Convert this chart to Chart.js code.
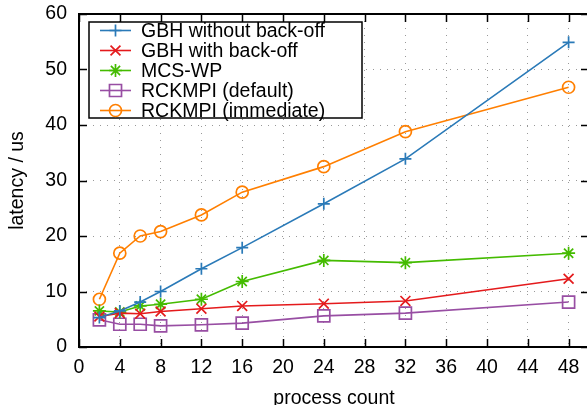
<!DOCTYPE html>
<html>
<head>
<meta charset="utf-8">
<script src="https://cdn.jsdelivr.net/npm/chart.js@4/dist/chart.umd.min.js"></script>
<style>
  html, body { margin: 0; padding: 0; background: #fff; overflow: hidden; }
  #wrap { width: 600px; height: 412px; }
</style>
</head>
<body>
<div id="wrap"><canvas id="chart" width="600" height="412"></canvas></div>
<script>
// process counts on the x axis
const processCounts = [2, 4, 6, 8, 12, 16, 24, 32, 48];
const xTicks = [0, 4, 8, 12, 16, 20, 24, 28, 32, 36, 40, 44, 48];
const yTicks = [0, 10, 20, 30, 40, 50, 60];

// latency in us
const gbhNoBackoff = [5.3, 6.5, 8.1, 10.0, 14.1, 17.9, 25.8, 33.9, 54.9];
const gbhBackoff = [5.5, 6.1, 6.0, 6.4, 6.9, 7.4, 7.8, 8.3, 12.3];
const mcsWp = [6.5, 6.3, 7.4, 7.7, 8.6, 11.8, 15.6, 15.2, 16.9];
const rckDefault = [4.9, 4.1, 4.1, 3.8, 4.0, 4.3, 5.6, 6.1, 8.1];
const rckImmediate = [8.6, 16.9, 20.0, 20.8, 23.8, 27.9, 32.5, 38.8, 46.8];

const FONT = "'Liberation Sans', Arial, sans-serif";
const FSIZE = 19.5;

function series(label, values, color, style, radius) {
    return {
        label: label,
        data: processCounts.map((x, i) => ({ x: x, y: values[i] })),
        borderColor: color,
        backgroundColor: 'transparent',
        pointBorderColor: color,
        pointBackgroundColor: 'transparent',
        pointStyle: style,
        pointRadius: radius,
        pointBorderWidth: 1.7,
        borderWidth: 1.6,
        tension: 0
    };
}

const datasets = [
    series('GBH without back-off', gbhNoBackoff, '#2a7ab8', 'cross', 6),
    series('GBH with back-off', gbhBackoff, '#e41a1c', 'crossRot', 7),
    series('MCS-WP', mcsWp, '#44bb00', 'star', 6.5),
    series('RCKMPI (default)', rckDefault, '#984ea3', 'rect', 8.5),
    series('RCKMPI (immediate)', rckImmediate, '#ff7f00', 'circle', 6)
];

// frame with inward ticks on all four sides, like gnuplot
const framePlugin = {
    id: 'frame',
    beforeDatasetsDraw(chart) {
        const { ctx, chartArea: a, scales } = chart;
        ctx.save();
        ctx.strokeStyle = '#000';
        ctx.lineWidth = 2;
        ctx.strokeRect(a.left, a.top, a.right - a.left, a.bottom - a.top);
        ctx.lineWidth = 1.5;
        const len = 8;
        ctx.beginPath();
        xTicks.forEach(v => {
            const px = Math.round(scales.x.getPixelForValue(v)) + 0.5;
            ctx.moveTo(px, a.bottom); ctx.lineTo(px, a.bottom - len);
            ctx.moveTo(px, a.top); ctx.lineTo(px, a.top + len);
        });
        yTicks.forEach(v => {
            const py = Math.round(scales.y.getPixelForValue(v)) + 0.5;
            ctx.moveTo(a.left, py); ctx.lineTo(a.left + len, py);
            ctx.moveTo(a.right, py); ctx.lineTo(a.right - len, py);
        });
        ctx.stroke();
        ctx.restore();
    }
};

// boxed key in the upper left corner
const keyPlugin = {
    id: 'key',
    afterDatasetsDraw(chart) {
        const ctx = chart.ctx;
        const box = { x: 89, y: 22, w: 273, h: 96 };
        ctx.save();
        ctx.fillStyle = '#fff';
        ctx.fillRect(box.x, box.y, box.w, box.h);
        ctx.strokeStyle = '#000';
        ctx.lineWidth = 1.5;
        ctx.strokeRect(box.x, box.y, box.w, box.h);
        ctx.font = FSIZE + 'px ' + FONT;
        ctx.textBaseline = 'middle';
        chart.data.datasets.forEach((ds, i) => {
            const y = 30.5 + i * 20;
            ctx.strokeStyle = ds.borderColor;
            ctx.lineWidth = 1.6;
            ctx.beginPath();
            ctx.moveTo(100, y); ctx.lineTo(131, y);
            ctx.stroke();
            ctx.fillStyle = 'rgba(0,0,0,0)';
            ctx.lineWidth = 1.7;
            Chart.helpers.drawPoint(ctx, {
                pointStyle: ds.pointStyle,
                radius: ds.pointRadius,
                borderWidth: 1.7
            }, 115.5, y);
            ctx.fillStyle = '#000';
            ctx.fillText(ds.label, 141, y + 1);
        });
        ctx.restore();
    }
};

new Chart(document.getElementById('chart'), {
    type: 'line',
    data: { datasets },
    options: {
        responsive: false,
        animation: false,
        layout: { padding: { top: 14, right: 11, left: 0, bottom: 0 } },
        plugins: { legend: { display: false }, tooltip: { enabled: false } },
        scales: {
            x: {
                type: 'linear',
                min: 0,
                max: 50,
                afterBuildTicks: s => { s.ticks = xTicks.map(v => ({ value: v })); },
                afterFit: s => { s.height = 65; s.paddingLeft = 0; s.paddingRight = 0; },
                border: { display: false, dash: [1, 6] },
                grid: { color: '#999', lineWidth: 1, drawTicks: false },
                ticks: { color: '#000', padding: 9, maxRotation: 0, autoSkip: false, font: { family: FONT, size: FSIZE } },
                title: { display: true, text: 'process count', color: '#000', padding: { top: 0, bottom: 2 }, font: { family: FONT, size: FSIZE } }
            },
            y: {
                min: 0,
                max: 60,
                afterBuildTicks: s => { s.ticks = yTicks.map(v => ({ value: v })); },
                afterFit: s => { s.width = 79; s.paddingTop = 0; s.paddingBottom = 0; },
                border: { display: false, dash: [1, 6] },
                grid: { color: '#999', lineWidth: 1, drawTicks: false },
                ticks: { color: '#000', padding: 12, font: { family: FONT, size: FSIZE } },
                title: { display: true, text: 'latency / us', color: '#000', padding: { top: 6, bottom: 0 }, font: { family: FONT, size: FSIZE } }
            }
        }
    },
    plugins: [framePlugin, keyPlugin]
});
</script>
</body>
</html>
